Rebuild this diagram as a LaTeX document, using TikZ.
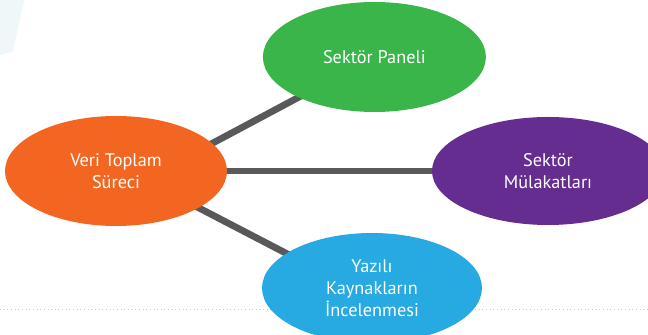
\documentclass[tikz,border=0pt]{standalone}
\usepackage{fontspec}
\setmainfont{PT Sans}
\usepackage{tikz}
\usetikzlibrary{shapes,backgrounds}
\definecolor{veriorange}{HTML}{F36621}
\definecolor{panelgreen}{HTML}{3AB54A}
\definecolor{mulakatpurple}{HTML}{662D91}
\definecolor{yaziliblue}{HTML}{27AAE1}
\definecolor{linkgray}{HTML}{58595B}
\definecolor{pagecyan}{HTML}{EEF8F8}

\begin{document}
\begin{tikzpicture}
             \tikzstyle{blob}=[ellipse,inner sep=0pt,outer sep=0pt,draw=none,text=white,align=center,
               font=\fontsize{13}{15.5}\selectfont,minimum width=5.55cm,minimum height=2.75cm]
             \tikzstyle{link}=[linkgray,line width=4.8pt,shorten <=-4pt,shorten >=-4pt]
            \useasboundingbox (0,0) rectangle (16.2,8.375);
            % page decoration top left
            \fill [pagecyan] (0,8.375) -- (0.625,8.375) -- (0.33,7.075) -- (0,6.98) -- cycle;
            \draw [white,line width=0.8pt] (0.625,8.375) -- (0.33,7.075) -- (0,6.98);
            % dotted rule
            \draw [gray!45,dotted,line width=0.6pt] (0,0.65) -- (16.2,0.65);
            \node (veri) [blob,fill=veriorange] at (2.9,4.1) {Veri Toplam\\Süreci};
            \node (panel) [blob,fill=panelgreen,minimum width=5.575cm] at (9.36,6.95) {Sektör Paneli};
            \node (mulakat) [blob,fill=mulakatpurple,minimum width=5.8cm,minimum height=2.7cm] at (13.7,4.1) {Sektör\\Mülakatları};
            \node (yazili) [blob,fill=yaziliblue,minimum width=5.5cm] at (9.3,1.175) {Yazılı\\Kaynakların\\İncelenmesi};
            \begin{pgfonlayer}{background}
            \draw [link] (veri.16) -- (panel.208);
            \draw [link] (veri.east) -- (mulakat.west);
            \draw [link] (veri.-24) -- (yazili.158);
            \end{pgfonlayer}
         \end{tikzpicture}
\end{document}
